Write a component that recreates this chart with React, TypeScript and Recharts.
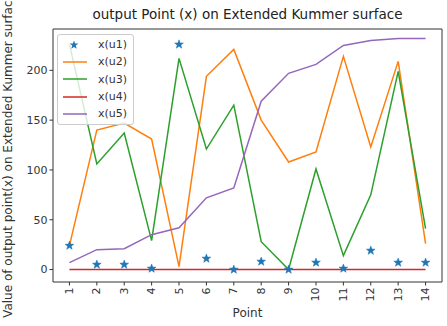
import React from 'react';
import { LineChart, Line, XAxis, YAxis, ReferenceArea, Legend } from 'recharts';

const points = [1, 2, 3, 4, 5, 6, 7, 8, 9, 10, 11, 12, 13, 14];
const u1 = [24, 5, 5, 1, 226, 11, 0, 8, 0, 7, 1, 19, 7, 7];
const u2 = [24, 140, 147, 131, 3, 194, 221, 150, 108, 118, 214, 123, 209, 26];
const u3 = [226, 106, 137, 29, 212, 121, 165, 28, 0, 101, 14, 75, 199, 41];
const u4 = [0, 0, 0, 0, 0, 0, 0, 0, 0, 0, 0, 0, 0, 0];
const u5 = [7, 20, 21, 35, 42, 72, 82, 169, 197, 206, 225, 230, 232, 232];
const yTicks = [0, 50, 100, 150, 200];

const title = 'output Point (x) on Extended Kummer surface';
const xLabel = 'Point';
const yLabel = 'Value of output point(x) on Extended Kummer surface';

const data = points.map((p, i) => ({ point: p, u1: u1[i], u2: u2[i], u3: u3[i], u4: u4[i], u5: u5[i] }));

const FONT = '"DejaVu Sans", sans-serif';
const TXT = '#333';

function starPath(cx: number, cy: number, ro: number, ri: number) {
  const pts: string[] = [];
  for (let k = 0; k < 10; k++) {
    const r = k % 2 === 0 ? ro : ri;
    const a = -Math.PI / 2 + (k * Math.PI) / 5;
    pts.push(`${cx + r * Math.cos(a)},${cy + r * Math.sin(a)}`);
  }
  return 'M' + pts.join('L') + 'Z';
}

const StarDot = (props: any) => {
  const { cx, cy, index } = props;
  if (cx == null || cy == null) return <g key={index} />;
  return <path key={index} d={starPath(cx, cy, 4.6, 1.9)} fill="#1f77b4" stroke="#1f77b4" strokeWidth={0.5} />;
};

const XTick = (props: any) => {
  const { x, y, payload } = props;
  return (
    <text
      x={x}
      y={y}
      transform={`rotate(-90, ${x}, ${y})`}
      textAnchor="end"
      dominantBaseline="central"
      fontSize={11}
      fontFamily={FONT}
      fill={TXT}
    >
      {payload.value}
    </text>
  );
};

const LegendContent = (props: any) => {
  const { payload } = props;
  return (
    <div
      style={{
        border: '1px solid #cccccc',
        borderRadius: 3,
        background: 'rgba(255,255,255,0.8)',
        padding: '1px 6px 2px 5px',
        fontFamily: FONT,
        fontSize: 11,
        color: TXT,
      }}
    >
      {(payload || []).map((e: any) => (
        <div key={e.value} style={{ display: 'flex', alignItems: 'center', height: 17.3 }}>
          <svg width={26} height={12} style={{ marginRight: 9 }}>
            {e.value === 'x(u1)' ? (
              <path d={starPath(11, 6, 4.6, 1.9)} fill="#1f77b4" />
            ) : (
              <line x1={0} y1={6} x2={24} y2={6} stroke={e.color} strokeWidth={1.5} />
            )}
          </svg>
          <span>{e.value}</span>
        </div>
      ))}
    </div>
  );
};

export default function App() {
  return (
    <div style={{ position: 'absolute', left: 0, top: 0, width: 447, height: 326, background: '#fff' }}>
      <div
        style={{
          position: 'absolute',
          left: 53,
          top: 6,
          width: 389,
          textAlign: 'center',
          fontFamily: FONT,
          fontSize: 13.5,
          color: '#222',
          lineHeight: '16px',
          whiteSpace: 'nowrap',
        }}
      >
        {title}
      </div>
      <LineChart width={447} height={326} data={data} margin={{ top: 29, right: 5, bottom: 0, left: 13 }}>
        <XAxis
          dataKey="point"
          type="number"
          domain={[0.4, 14.6]}
          ticks={points}
          interval={0}
          allowDataOverflow
          height={44}
          tickSize={3.5}
          tickMargin={2}
          axisLine={false}
          tickLine={{ stroke: TXT }}
          tick={<XTick />}
          label={{
            content: () => (
              <text x={247.5} y={313} textAnchor="middle" dominantBaseline="central" fontSize={12} fontFamily={FONT} fill={TXT}>
                {xLabel}
              </text>
            ),
          }}
        />
        <YAxis
          type="number"
          domain={[-12.5, 241.5]}
          ticks={yTicks}
          allowDataOverflow
          width={40}
          tickSize={3.5}
          tickMargin={2}
          axisLine={false}
          tickLine={{ stroke: TXT }}
          tick={{ fontSize: 11, fontFamily: FONT, fill: TXT }}
          label={{
            content: () => (
              <text
                x={7.5}
                y={155.5}
                transform="rotate(-90, 7.5, 155.5)"
                textAnchor="middle"
                dominantBaseline="central"
                fontSize={12}
                fontFamily={FONT}
                fill={TXT}
              >
                {yLabel}
              </text>
            ),
          }}
        />
        <Line dataKey="u1" name="x(u1)" stroke="none" strokeWidth={0} dot={<StarDot />} activeDot={false} isAnimationActive={false} legendType="star" color="#1f77b4" />
        <Line dataKey="u2" name="x(u2)" stroke="#ff7f0e" strokeWidth={1.5} dot={false} activeDot={false} isAnimationActive={false} />
        <Line dataKey="u3" name="x(u3)" stroke="#2ca02c" strokeWidth={1.5} dot={false} activeDot={false} isAnimationActive={false} />
        <Line dataKey="u4" name="x(u4)" stroke="#d62728" strokeWidth={1.5} dot={false} activeDot={false} isAnimationActive={false} />
        <Line dataKey="u5" name="x(u5)" stroke="#9467bd" strokeWidth={1.5} dot={false} activeDot={false} isAnimationActive={false} />
        <ReferenceArea x1={0.4} x2={14.6} y1={-12.5} y2={241.5} fill="none" stroke={TXT} strokeWidth={1} ifOverflow="visible" />
        <Legend
          layout="vertical"
          align="center"
          verticalAlign="middle"
          content={<LegendContent />}
          wrapperStyle={{ left: 57, top: 34, width: 'auto', height: 'auto' }}
        />
      </LineChart>
    </div>
  );
}
